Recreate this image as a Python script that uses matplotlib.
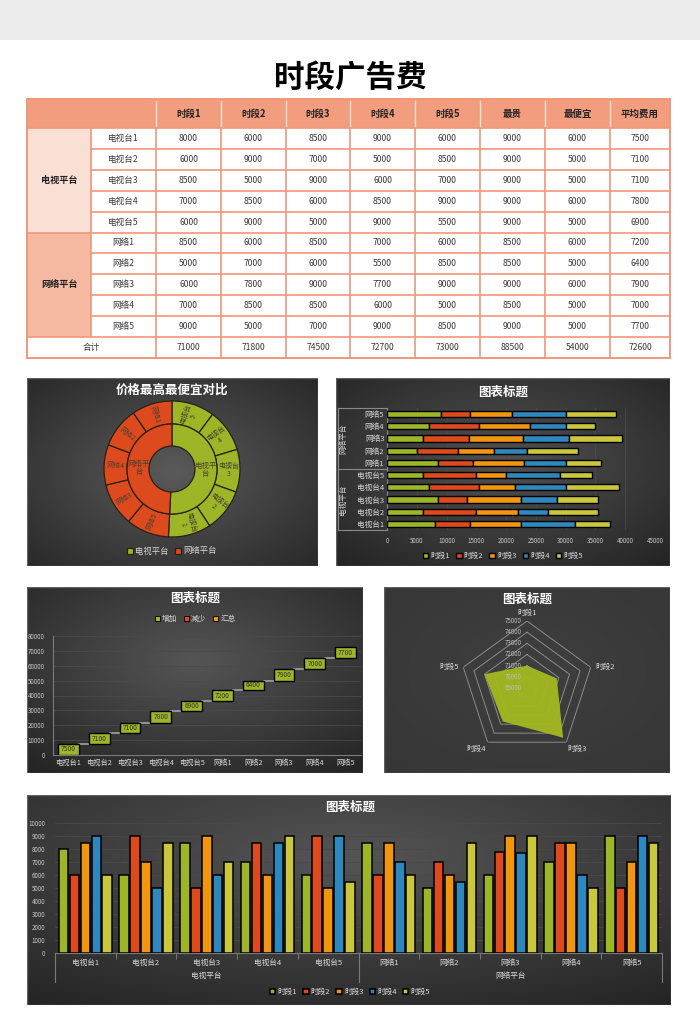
import numpy as np
import matplotlib
matplotlib.use('Agg')
import matplotlib.pyplot as plt
import matplotlib.transforms as mtransforms
from matplotlib.patches import Rectangle, Patch
from matplotlib.colors import to_rgb

plt.rcParams['font.family'] = ['Noto Sans CJK SC', 'DejaVu Sans']

W, H = 700, 1030

periods = ['时段1', '时段2', '时段3', '时段4', '时段5']
stations = ['电视台1', '电视台2', '电视台3', '电视台4', '电视台5',
            '网络1', '网络2', '网络3', '网络4', '网络5']
groups = ['电视平台', '网络平台']
header = ['时段1', '时段2', '时段3', '时段4', '时段5', '最贵', '最便宜', '平均费用']

p1 = [8000, 6000, 8500, 7000, 6000, 8500, 5000, 6000, 7000, 9000]
p2 = [6000, 9000, 5000, 8500, 9000, 6000, 7000, 7800, 8500, 5000]
p3 = [8500, 7000, 9000, 6000, 5000, 8500, 6000, 9000, 8500, 7000]
p4 = [9000, 5000, 6000, 8500, 9000, 7000, 5500, 7700, 6000, 9000]
p5 = [6000, 8500, 7000, 9000, 5500, 6000, 8500, 9000, 5000, 8500]
highest = [9000, 9000, 9000, 9000, 9000, 8500, 8500, 9000, 8500, 9000]
cheapest = [6000, 5000, 5000, 6000, 5000, 6000, 5000, 6000, 5000, 5000]
average = [7500, 7100, 7100, 7800, 6900, 7200, 6400, 7900, 7000, 7700]
totals = [71000, 71800, 74500, 72700, 73000, 88500, 54000, 72600]

period_vals = [p1, p2, p3, p4, p5]

GREEN = '#9cb627'
RED = '#dc4a1e'
ORANGE = '#f2950f'
BLUE = '#2f88bd'
YELLOW = '#cbc73c'
period_colors = [GREEN, RED, ORANGE, BLUE, YELLOW]
LIGHT = '#d8d8d8'

fig = plt.figure(figsize=(W / 100, H / 100), dpi=100)


def px_rect(x0, y0, x1, y1):
    return [x0 / W, 1 - y1 / H, (x1 - x0) / W, (y1 - y0) / H]


def fpos(x, y):
    return x / W, 1 - y / H


def panel(x0, y0, x1, y1, inner='#525252', outer='#232323', cx=0.5, cy=0.45, spread=0.75):
    ax = fig.add_axes(px_rect(x0, y0, x1, y1))
    h, w = int(y1 - y0), int(x1 - x0)
    yy, xx = np.mgrid[0:1:h * 1j, 0:1:w * 1j]
    d = np.clip(np.sqrt(((xx - cx) / spread) ** 2 + ((yy - cy) / spread) ** 2), 0, 1)
    c0, c1 = np.array(to_rgb(inner)), np.array(to_rgb(outer))
    ax.imshow(c0 + (c1 - c0) * d[..., None], aspect='auto', extent=(0, 1, 0, 1),
              interpolation='bilinear')
    ax.add_patch(Rectangle((0, 0), 1, 1, fill=False, edgecolor='#5e5e5e', lw=1,
                           transform=ax.transAxes))
    ax.axis('off')
    return ax


def chart_title(x, y, s, size=9):
    fig.text(*fpos(x, y), s, ha='center', va='center', color='white',
             fontsize=size, fontweight='bold')


def square_legend(handles, labels, x, y, ncol, size=5.5):
    leg = fig.legend(handles, labels, loc='center', bbox_to_anchor=fpos(x, y), ncol=ncol,
                     frameon=False, fontsize=size, labelcolor=LIGHT, handlelength=0.7,
                     handleheight=0.7, handletextpad=0.3, columnspacing=0.8)
    return leg


# ---- page, title and table ----
page = fig.add_axes([0, 0, 1, 1])
page.set_xlim(0, W)
page.set_ylim(H, 0)
page.axis('off')
page.add_patch(Rectangle((0, 0), W, 40, color='#ebebeb', lw=0))
page.text(350, 78, '时段广告费', ha='center', va='center', fontsize=22, fontweight='bold')

col_x = [27, 91, 156, 221, 286, 350, 415, 480, 545, 610, 670]
top, head_h, row_h = 99, 29, 20.9
row_y = [top + head_h + i * row_h for i in range(12)]
line_c = '#f0977a'

page.add_patch(Rectangle((col_x[0], top), col_x[-1] - col_x[0], head_h, color='#f19d7e', lw=0))
page.add_patch(Rectangle((col_x[0], row_y[0]), col_x[1] - col_x[0], 5 * row_h, color='#fadfd5', lw=0))
page.add_patch(Rectangle((col_x[0], row_y[5]), col_x[1] - col_x[0], 5 * row_h, color='#f5b9a2', lw=0))

for j, name in enumerate(header):
    cx = (col_x[j + 2] + col_x[j + 3]) / 2
    page.text(cx, top + head_h / 2, name, ha='center', va='center', fontsize=6.8,
              fontweight='bold', color='#222222')
for j in range(2, 10):
    page.plot([col_x[j], col_x[j]], [top + 2, top + head_h - 1], color='#fbe2d8', lw=1)

for g, name in enumerate(groups):
    page.text((col_x[0] + col_x[1]) / 2, row_y[g * 5] + 2.5 * row_h, name, ha='center',
              va='center', fontsize=6.6, fontweight='bold', color='#222222')

for i in range(10):
    cy = row_y[i] + row_h / 2
    page.text((col_x[1] + col_x[2]) / 2, cy, stations[i], ha='center', va='center',
              fontsize=6.2, color='#3a3a3a')
    vals = [p1[i], p2[i], p3[i], p4[i], p5[i], highest[i], cheapest[i], average[i]]
    for j, v in enumerate(vals):
        page.text((col_x[j + 2] + col_x[j + 3]) / 2, cy, str(v), ha='center', va='center',
                  fontsize=6.2, color='#3a3a3a')

cy = row_y[10] + row_h / 2
page.text((col_x[0] + col_x[2]) / 2, cy, '合计', ha='center', va='center', fontsize=6.2,
          color='#3a3a3a')
for j, v in enumerate(totals):
    page.text((col_x[j + 2] + col_x[j + 3]) / 2, cy, str(v), ha='center', va='center',
              fontsize=6.2, color='#3a3a3a')

# grid lines of the table
page.plot([col_x[0], col_x[-1]], [top, top], color=line_c, lw=1.4)
for i in range(11):
    x_start = col_x[1] if i in (1, 2, 3, 4, 6, 7, 8, 9) else col_x[0]
    page.plot([x_start, col_x[-1]], [row_y[i], row_y[i]], color=line_c, lw=1.2)
page.plot([col_x[0], col_x[-1]], [row_y[11], row_y[11]], color=line_c, lw=1.4)
page.plot([col_x[0], col_x[0]], [top, row_y[11]], color=line_c, lw=1.4)
page.plot([col_x[-1], col_x[-1]], [top, row_y[11]], color=line_c, lw=1.4)
page.plot([col_x[1], col_x[1]], [row_y[0], row_y[10]], color=line_c, lw=1.2)
for j in range(2, 10):
    page.plot([col_x[j], col_x[j]], [row_y[0], row_y[11]], color=line_c, lw=1.2)

# ---- chart 1: sunburst of the highest price ----
panel(27, 378, 318, 566, inner='#5a5a5a', outer='#262626', cy=0.5)
chart_title(172, 390, '价格最高最便宜对比')
ax1 = fig.add_axes(px_rect(97, 394, 247, 544))
inner_vals = [sum(highest[:5]), sum(highest[5:])]
order = (sorted(range(5), key=lambda i: (-highest[i], -i)) +
         sorted(range(5, 10), key=lambda i: (-highest[i], -i)))
outer_vals = [highest[i] for i in order]
outer_cols = [GREEN if i < 5 else RED for i in order]
wp = dict(edgecolor='#2b2114', linewidth=0.9)
w_out, _ = ax1.pie(outer_vals, radius=68, colors=outer_cols, startangle=90,
                   counterclock=False, wedgeprops=dict(width=23, **wp))
w_in, _ = ax1.pie(inner_vals, radius=45, colors=[GREEN, RED], startangle=90,
                  counterclock=False, wedgeprops=dict(width=22, **wp))
ax1.set_xlim(-75, 75)
ax1.set_ylim(-75, 75)
ax1.set_aspect('equal')
ax1.axis('off')

for w, i in zip(w_out, order):
    a = (w.theta1 + w.theta2) / 2
    r = 56.5
    x, y = r * np.cos(np.radians(a)), r * np.sin(np.radians(a))
    am = a % 360
    rot = am - 180 if 90 < am < 270 else a
    name = stations[i]
    label = name[:3] + '\n' + name[3:] if i < 5 else name
    ax1.text(x, y, label, rotation=rot, rotation_mode='anchor', ha='center', va='center',
             fontsize=5, color='#4a4030', linespacing=1.0)
for w, name in zip(w_in, groups):
    a = np.radians((w.theta1 + w.theta2) / 2)
    ax1.text(33 * np.cos(a), 33 * np.sin(a), name[:3] + '\n' + name[3:], ha='center',
             va='center', fontsize=5.4, color='#4a4030', linespacing=1.0)
square_legend(w_in, groups, 172, 551, 2, size=6)

# ---- chart 2: stacked horizontal bars ----
panel(336, 378, 670, 566)
chart_title(503, 392, '图表标题')
ax2 = fig.add_axes(px_rect(387, 408, 655, 530))
ax2.set_facecolor('none')
ypos = np.arange(len(stations))
left = np.zeros(len(stations))
for k, vals in enumerate(period_vals):
    ax2.barh(ypos, vals, left=left, height=0.52, color=period_colors[k], edgecolor='black',
             linewidth=1.0, label=periods[k], zorder=3)
    left = left + np.array(vals)
ax2.set_xlim(0, 45000)
ax2.set_ylim(-0.5, 9.5)
ax2.set_xticks(range(0, 45001, 5000))
ax2.set_yticks(ypos, stations)
ax2.tick_params(axis='x', length=0, labelsize=4.5, labelcolor='#c8c8c8', pad=5)
ax2.tick_params(axis='y', length=0, labelsize=5.5, labelcolor=LIGHT, pad=2)
ax2.grid(axis='x', color='#4a4a4a', lw=0.6)
for s in ax2.spines.values():
    s.set_visible(False)
tr2 = mtransforms.blended_transform_factory(ax2.transAxes, ax2.transData)
gx = (338 - 387) / 268
for yb in (-0.5, 4.5, 9.5):
    ax2.plot([gx, 0], [yb, yb], color='#8a8a8a', lw=0.8, transform=tr2, clip_on=False)
ax2.plot([gx, gx], [-0.5, 9.5], color='#8a8a8a', lw=0.8, transform=tr2, clip_on=False)
ax2.plot([0, 0], [-0.5, 9.5], color='#8a8a8a', lw=0.8, transform=tr2, clip_on=False)
for g, name in enumerate(groups):
    ax2.text((343 - 387) / 268, g * 5 + 2, name, rotation=90, ha='center', va='center',
             fontsize=5.5, color=LIGHT, transform=tr2)
h2, l2 = ax2.get_legend_handles_labels()
square_legend(h2, l2, 503, 556, 5, size=5.5)

# ---- chart 3: waterfall of average cost ----
panel(27, 587, 363, 773, inner='#555555', outer='#252525', cy=0.4)
chart_title(195, 598, '图表标题')
ax3 = fig.add_axes(px_rect(53, 636, 361, 755))
ax3.set_facecolor('none')
xc = np.arange(len(stations))
cum = np.cumsum(average)
base = cum - np.array(average)
bw3 = 0.68
ax3.bar(xc, average, bottom=base, width=bw3, color=GREEN, edgecolor='black', lw=1.0, zorder=3)
for i in range(len(stations) - 1):
    ax3.plot([xc[i] + bw3 / 2, xc[i + 1] - bw3 / 2], [cum[i], cum[i]], color='#9a9a9a',
             lw=1.3, zorder=2)
for i in range(len(stations)):
    ax3.text(xc[i], base[i] + average[i] / 2, str(average[i]), ha='center', va='center',
             fontsize=4.8, color='#333333', zorder=4)
ax3.set_xlim(-0.5, 9.5)
ax3.set_ylim(0, 80000)
ax3.set_yticks(range(0, 80001, 10000))
ax3.set_xticks(xc, stations)
ax3.tick_params(axis='y', length=0, labelsize=4.5, labelcolor='#c8c8c8', pad=6)
ax3.tick_params(axis='x', length=0, labelsize=5.2, labelcolor=LIGHT, pad=3)
ax3.grid(axis='y', color='#4a4a4a', lw=0.6)
ax3.set_axisbelow(True)
for s in ('top', 'right'):
    ax3.spines[s].set_visible(False)
for s in ('left', 'bottom'):
    ax3.spines[s].set_color('#7a7a7a')
    ax3.spines[s].set_linewidth(0.8)
wf_handles = [Patch(facecolor=c, edgecolor='black', lw=0.6) for c in (GREEN, RED, ORANGE)]
square_legend(wf_handles, ['增加', '减少', '汇总'], 195, 619, 3, size=5.5)

# ---- chart 4: radar of period totals ----
panel(384, 587, 670, 773, inner='#3f3f3f', outer='#363636')
chart_title(527, 599, '图表标题')
ax4 = fig.add_axes(px_rect(460, 621, 594, 755), projection='polar')
ax4.set_facecolor('none')
ax4.set_theta_zero_location('N')
ax4.set_theta_direction(-1)
theta = np.linspace(0, 2 * np.pi, len(periods), endpoint=False)
ring = np.r_[theta, theta[0]]
levels = list(range(69000, 75001, 1000))
for lv in levels[1:]:
    ax4.plot(ring, [lv] * len(ring), color='#8c8c8c', lw=0.7)
radar_vals = totals[:5]
ax4.fill(ring, radar_vals + radar_vals[:1], color='#a3b820', alpha=0.95, lw=0, zorder=3)
ax4.set_ylim(69000, 75000)
ax4.set_xticks([])
ax4.set_yticks([])
ax4.grid(False)
ax4.spines['polar'].set_visible(False)
for lv in levels:
    ax4.annotate(str(lv), (0, lv), xytext=(-4, 0), textcoords='offset points', ha='right',
                 va='center', fontsize=4.5, color='#bdbdbd', zorder=4)
offsets = [((0, 3), 'center', 'bottom'), ((3, 0), 'left', 'center'),
           ((1, -2), 'left', 'top'), ((-1, -2), 'right', 'top'), ((-3, 0), 'right', 'center')]
for t, name, (off, ha, va) in zip(theta, periods, offsets):
    ax4.annotate(name, (t, 75000), xytext=off, textcoords='offset points', ha=ha, va=va,
                 fontsize=5.5, color=LIGHT, annotation_clip=False)

# ---- chart 5: grouped columns ----
panel(27, 795, 671, 1005, inner='#555555', outer='#222222', cy=0.3, spread=0.9)
chart_title(350, 807, '图表标题')
ax5 = fig.add_axes(px_rect(55, 823, 662, 953))
ax5.set_facecolor('none')
bw5, step = 0.157, 0.18
for k, vals in enumerate(period_vals):
    ax5.bar(xc + (k - 2) * step, vals, width=bw5, color=period_colors[k], edgecolor='black',
            lw=1.1, label=periods[k], zorder=3)
ax5.set_xlim(-0.5, 9.5)
ax5.set_ylim(0, 10000)
ax5.set_yticks(range(0, 10001, 1000))
ax5.set_xticks(xc, stations)
ax5.set_xticks(np.arange(0.5, 9.5, 1), minor=True)
ax5.tick_params(axis='y', length=0, labelsize=4.5, labelcolor='#c8c8c8', pad=7)
ax5.tick_params(axis='x', which='major', length=0, labelsize=5.5, labelcolor=LIGHT, pad=4)
ax5.tick_params(axis='x', which='minor', length=4, color='#7a7a7a', width=0.7)
ax5.grid(axis='y', color='#4a4a4a', lw=0.6)
ax5.set_axisbelow(True)
for s in ('top', 'right', 'left'):
    ax5.spines[s].set_visible(False)
ax5.spines['bottom'].set_color('#7a7a7a')
ax5.spines['bottom'].set_linewidth(0.8)
tr5 = mtransforms.blended_transform_factory(ax5.transData, ax5.transAxes)
for xb in (-0.5, 4.5, 9.5):
    ax5.plot([xb, xb], [0, -(982 - 953) / 130], color='#7a7a7a', lw=0.8, transform=tr5,
             clip_on=False)
for g, name in enumerate(groups):
    ax5.text(g * 5 + 2, -(976 - 953) / 130, name, ha='center', va='center', fontsize=5.5,
             color=LIGHT, transform=tr5)
h5, l5 = ax5.get_legend_handles_labels()
square_legend(h5, l5, 350, 992, 5, size=5.5)

fig.savefig('out.png', dpi=100)
